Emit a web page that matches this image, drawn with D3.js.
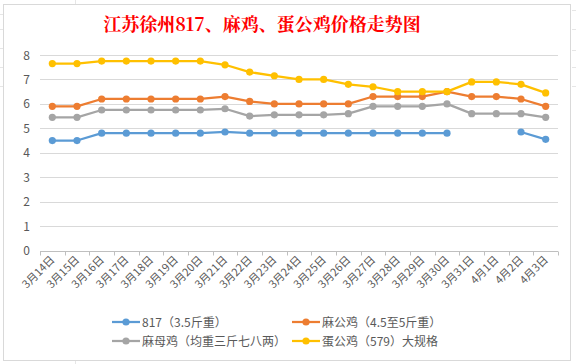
<!DOCTYPE html>
<html><head><meta charset="utf-8">
<script src="https://cdn.jsdelivr.net/npm/d3@7"></script>
<style>
body{margin:0;background:#fff;}
svg{display:block;font-family:"Noto Sans CJK SC","Noto Sans",sans-serif;}
</style></head>
<body><svg id="c" width="576" height="364"></svg>
<script>
const categories = ["3月14日","3月15日","3月16日","3月17日","3月18日","3月19日","3月20日","3月21日","3月22日","3月23日","3月24日","3月25日","3月26日","3月27日","3月28日","3月29日","3月30日","3月31日","4月1日","4月2日","4月3日"];
const s817   = [4.5,4.5,4.8,4.8,4.8,4.8,4.8,4.85,4.8,4.8,4.8,4.8,4.8,4.8,4.8,4.8,4.8,null,null,4.85,4.55];
const maGong = [5.9,5.9,6.2,6.2,6.2,6.2,6.2,6.3,6.1,6.0,6.0,6.0,6.0,6.3,6.3,6.3,6.5,6.3,6.3,6.2,5.9];
const maMu   = [5.45,5.45,5.75,5.75,5.75,5.75,5.75,5.8,5.5,5.55,5.55,5.55,5.6,5.9,5.9,5.9,6.0,5.6,5.6,5.6,5.45];
const danGong= [7.65,7.65,7.75,7.75,7.75,7.75,7.75,7.6,7.3,7.15,7.0,7.0,6.8,6.7,6.5,6.5,6.5,6.9,6.9,6.8,6.45];
const seriesNames = ["817（3.5斤重）","麻公鸡（4.5至5斤重）","麻母鸡（均重三斤七八两）","蛋公鸡（579）大规格"];
const yTicks = [0,1,2,3,4,5,6,7,8];
const title = "江苏徐州817、麻鸡、蛋公鸡价格走势图";

const colors = ["#5b9bd5","#ed7d31","#a5a5a5","#ffc000"];
const series = [s817, maGong, maMu, danGong];

const svg = d3.select("#c");
// faint spreadsheet background lines
const bg = svg.append("g").attr("stroke","#e6e6e6").attr("stroke-width",1);
[75].forEach(xx=>bg.append("line").attr("x1",xx+0.5).attr("x2",xx+0.5).attr("y1",0).attr("y2",4));
[75].forEach(xx=>bg.append("line").attr("x1",xx+0.5).attr("x2",xx+0.5).attr("y1",361).attr("y2",364));
[14,29,48,67,86].forEach(yy=>bg.append("line").attr("x1",0).attr("x2",3).attr("y1",yy+0.5).attr("y2",yy+0.5));
[10,29,50,67,86].forEach(yy=>bg.append("line").attr("x1",572).attr("x2",576).attr("y1",yy+0.5).attr("y2",yy+0.5));

svg.append("rect").attr("x",3.5).attr("y",4.5).attr("width",567).attr("height",356)
  .attr("fill","#fff").attr("stroke","#d9d9d9");

svg.append("text").attr("x",262).attr("y",31).attr("text-anchor","middle")
  .attr("fill","#ff0000").attr("font-size",18).attr("font-weight","bold")
  .attr("font-family","'Noto Serif CJK SC','Noto Sans CJK SC',serif").text(title);

const pLeft=40, pRight=558, pTop=55, pBottom=250.5;
const x = d3.scaleBand().domain(categories).range([pLeft,pRight]);
const y = d3.scaleLinear().domain([0,8]).range([pBottom,pTop]);

// gridlines
svg.append("g").selectAll("line").data(yTicks.filter(d=>d>0)).join("line")
  .attr("x1",pLeft).attr("x2",pRight)
  .attr("y1",d=>Math.round(y(d))+0.5).attr("y2",d=>Math.round(y(d))+0.5)
  .attr("stroke","#d9d9d9");

// y labels
svg.append("g").selectAll("text").data(yTicks).join("text")
  .attr("x",30).attr("y",d=>y(d)+4.5).attr("text-anchor","end")
  .attr("font-size",12).attr("fill","#595959").text(d=>d);

// x axis
const xAxis = svg.append("g").attr("transform",`translate(0,${Math.round(pBottom)+0.5})`);
xAxis.append("line").attr("x1",pLeft).attr("x2",pRight).attr("stroke","#bfbfbf");
const bounds = categories.map((c,i)=>pLeft + i*x.bandwidth()).concat([pRight]);
xAxis.selectAll("line.t").data(bounds).join("line").attr("class","t")
  .attr("x1",d=>Math.round(d)+0.5).attr("x2",d=>Math.round(d)+0.5).attr("y1",0).attr("y2",4)
  .attr("stroke","#bfbfbf");
svg.append("g").selectAll("text").data(categories).join("text")
  .attr("transform",d=>`translate(${x(d)+x.bandwidth()/2+3},${pBottom+10}) rotate(-45)`)
  .attr("text-anchor","end").attr("font-size",11).attr("fill","#595959").text(d=>d);

// lines
const cx = i => x(categories[i]) + x.bandwidth()/2;
series.forEach((s,k)=>{
  const line = d3.line().defined(d=>d!=null).x((d,i)=>cx(i)).y(d=>y(d));
  svg.append("path").datum(s).attr("d",line).attr("fill","none")
    .attr("stroke",colors[k]).attr("stroke-width",2.25).attr("stroke-linejoin","round");
  svg.append("g").selectAll("circle").data(s.map((v,i)=>({v,i})).filter(d=>d.v!=null)).join("circle")
    .attr("cx",d=>cx(d.i)).attr("cy",d=>y(d.v)).attr("r",3.6).attr("fill",colors[k]);
});

// legend
const legPos = [[112,322],[292,322],[112,341],[292,341]];
seriesNames.forEach((n,k)=>{
  const [lx,ly]=legPos[k];
  const g = svg.append("g");
  g.append("line").attr("x1",lx).attr("x2",lx+28).attr("y1",ly).attr("y2",ly)
    .attr("stroke",colors[k]).attr("stroke-width",2.25);
  g.append("circle").attr("cx",lx+14).attr("cy",ly).attr("r",3.6).attr("fill",colors[k]);
  g.append("text").attr("x",lx+30).attr("y",ly+4.5).attr("font-size",12).attr("fill","#595959").text(n);
});
</script></body></html>
